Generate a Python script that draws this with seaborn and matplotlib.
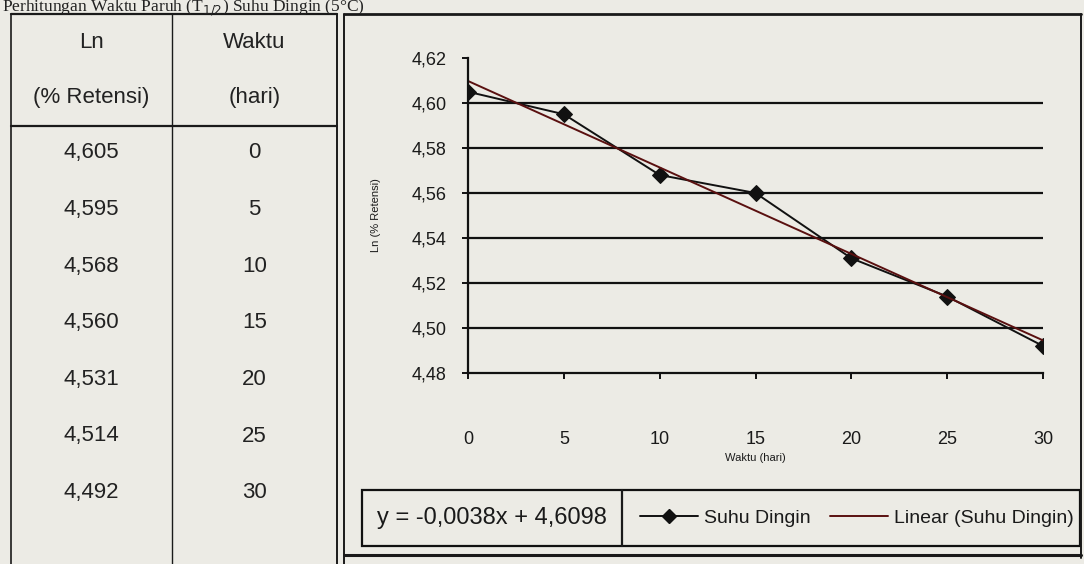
import numpy as np
import pandas as pd
import matplotlib
matplotlib.use("Agg")
import matplotlib.pyplot as plt
import seaborn as sns
from matplotlib.lines import Line2D
from matplotlib.patches import Rectangle
from matplotlib.ticker import FuncFormatter, MultipleLocator

# ---- data ----
waktu = [0, 5, 10, 15, 20, 25, 30]
ln_retensi = [4.605, 4.595, 4.568, 4.560, 4.531, 4.514, 4.492]
series_name = "Suhu Dingin"
trend_name = "Linear (Suhu Dingin)"
title_text = "Perhitungan Waktu Paruh (T$_{1/2}$) Suhu Dingin (5°C)"
col_headers = [("Ln", "(% Retensi)"), ("Waktu", "(hari)")]
x_label = "Waktu (hari)"
y_label = "Ln (% Retensi)"

df = pd.DataFrame({"Waktu": waktu, "Ln": ln_retensi})

W, H = 1084, 564
BG = "#ecebe5"
sns.set_theme(style="white")
plt.rcParams["font.family"] = ["Liberation Sans", "DejaVu Sans"]
NF = dict(family=["Liberation Sans", "DejaVu Sans"])

fig = plt.figure(figsize=(W / 100, H / 100), dpi=100, facecolor=BG)

def fx(x):
    return x / W

def fy(y):
    return 1 - y / H

def fline(x0, y0, x1, y1, lw=1.2, color="#1a1a1a"):
    fig.add_artist(Line2D([fx(x0), fx(x1)], [fy(y0), fy(y1)], lw=lw, color=color,
                          transform=fig.transFigure))

# ---- clipped page title ----
fig.text(fx(2), fy(11), title_text, family=["Liberation Serif"], fontsize=12.5,
         color="#222222", va="baseline", ha="left")

# ---- table ----
tl, tm, tr, tt, th = 11, 172, 337, 14, 126
fline(tl, tt, tr, tt, lw=1.6)
fline(tl, tt, tl, H, lw=1.2)
fline(tm, tt, tm, H, lw=1.0)
fline(tr, tt, tr, H, lw=1.4)
fline(tl, th, tr, th, lw=1.6)
col_centers = [(tl + tm) / 2, (tm + tr) / 2]
for cx, (h1, h2) in zip(col_centers, col_headers):
    fig.text(fx(cx), fy(42), h1, ha="center", va="center", fontsize=16, color="#222222")
    fig.text(fx(cx), fy(97), h2, ha="center", va="center", fontsize=16, color="#222222")
row0, row_step = 153, 56.6
for i, (lv, wv) in enumerate(zip(ln_retensi, waktu)):
    yy = row0 + i * row_step
    fig.text(fx(col_centers[0]), fy(yy), f"{lv:.3f}".replace(".", ","), ha="center",
             va="center", fontsize=16, color="#222222")
    fig.text(fx(col_centers[1]), fy(yy), str(wv), ha="center", va="center",
             fontsize=16, color="#222222")

# ---- chart frame ----
fline(344, 14, 344, H, lw=1.4)
fline(344, 14, 1081, 14, lw=2.0)
fline(1081, 14, 1081, 558, lw=1.4)
fline(344, 555, 1081, 555, lw=2.2)

# ---- chart axes ----
ax = fig.add_axes([fx(468), fy(373), fx(1043 - 468), (373 - 58) / H])
ax.set_facecolor("none")
sns.lineplot(data=df, x="Waktu", y="Ln", ax=ax, color="#111111", lw=1.4,
             marker="D", markersize=8, markeredgecolor="#111111", label=series_name,
             legend=False)
sns.regplot(data=df, x="Waktu", y="Ln", ax=ax, scatter=False, ci=None,
            line_kws={"color": "#5a1010", "lw": 1.4}, truncate=True)

ax.set_xlim(0, 30)
ax.set_ylim(4.48, 4.62)
ax.xaxis.set_major_locator(MultipleLocator(5))
ax.yaxis.set_major_locator(MultipleLocator(0.02))
ax.yaxis.set_major_formatter(FuncFormatter(lambda v, p: f"{v:.2f}".replace(".", ",")))
ax.grid(axis="y", color="#111111", lw=1.6)
ax.set_axisbelow(True)
for gl, t in zip(ax.yaxis.get_gridlines(), ax.get_yticks()):
    if t > 4.615 or t < 4.485:
        gl.set_visible(False)
for s in ["top", "right"]:
    ax.spines[s].set_visible(False)
for s in ["left", "bottom"]:
    ax.spines[s].set_color("#111111")
    ax.spines[s].set_linewidth(1.6)
ax.tick_params(axis="both", which="major", direction="out", length=4.5, width=1.4,
               color="#111111", bottom=True, left=True)
ax.tick_params(axis="x", pad=37)
ax.tick_params(axis="y", pad=11)
for lab in ax.get_xticklabels() + ax.get_yticklabels():
    lab.set_family(NF["family"])
    lab.set_fontsize(13)
    lab.set_color("#1a1a1a")
ax.set_xlabel(x_label, fontsize=8, color="#1a1a1a", labelpad=4, **NF)
ax.set_ylabel(y_label, fontsize=8, color="#1a1a1a", labelpad=22, **NF)

# ---- equation + legend box ----
fig.add_artist(Rectangle((fx(362), fy(546)), fx(1080 - 362), (546 - 490) / H,
                         fill=False, ec="#111111", lw=1.6, transform=fig.transFigure))
fline(622, 490, 622, 546, lw=1.6)
slope, intercept = np.polyfit(waktu, ln_retensi, 1)
sign = "+" if intercept >= 0 else "-"
eq = f"y = {slope:.4f}x {sign} {abs(intercept):.4f}".replace(".", ",")
fig.text(fx(492), fy(518), eq, ha="center", va="center", fontsize=17,
         color="#1a1a1a", **NF)
handles = [
    Line2D([], [], color="#111111", lw=1.4, marker="D", markersize=7, label=series_name),
    Line2D([], [], color="#5a1010", lw=1.4, label=trend_name),
]
fig.legend(handles=handles, loc="center left", bbox_to_anchor=(fx(622), fy(518)),
           ncol=2, frameon=False, prop=dict(size=14, **NF),
           handlelength=3, handletextpad=0.3, columnspacing=1.0,
           labelcolor="#1a1a1a")

fig.savefig("out.png", dpi=100, facecolor=BG)
